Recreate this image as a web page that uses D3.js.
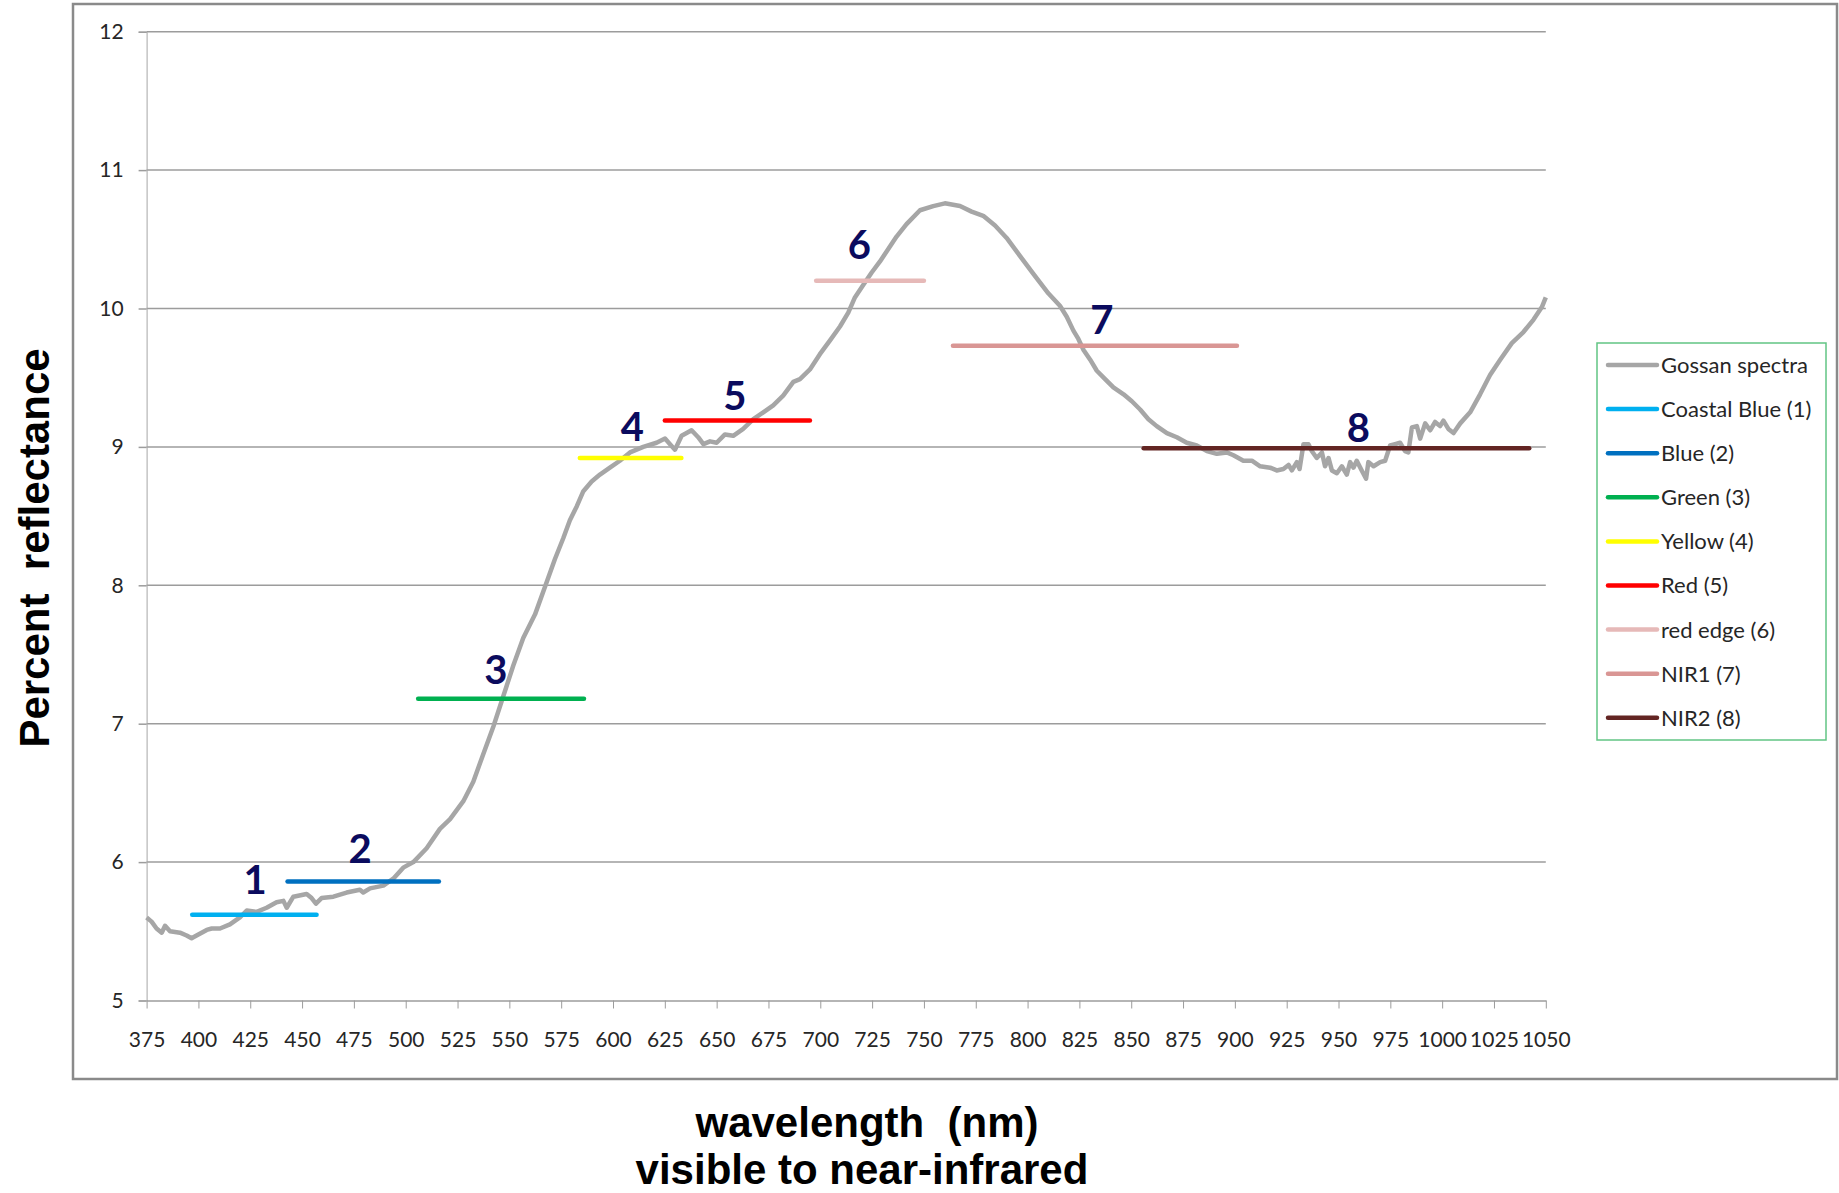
<!DOCTYPE html>
<html>
<head>
<meta charset="utf-8">
<script src="https://cdn.jsdelivr.net/npm/d3@7"></script>
<style>
  body { margin: 0; background: #fff; }
  svg { display: block; }
</style>
</head>
<body>
<div id="chart"></div>
<script>
// spectrum (nm / percent reflectance)
const wavelength = [375,377.4,379.8,382.3,383.9,386.3,391.1,394.3,396.7,399.1,404,406.4,410.4,415.2,420,423.3,428.1,432.9,437.7,441,442.6,445.8,452.2,454.6,456.7,459.4,465.1,471.5,477.9,479.5,482.8,489.2,494,498.8,503.7,510.1,516.5,521.4,527.8,532.6,537.4,542.3,547.1,551.9,556.7,562.4,567.2,572,576,579.2,582.5,585.7,589.7,
  593.7,598.5,603.3,608.2,614.6,621,625.1,627.5,629.9,633.1,637.9,641.1,643.6,646.8,650,654,658,662.8,667.7,672.5,677.3,682.1,687,690.2,695,699.8,704.7,709.5,713.5,716.7,720.7,724.8,728.8,732.8,736.8,741.6,748.1,754.5,760.1,767.4,773,778.6,784.3,789.9,796.3,802.8,810,815.6,
  818.9,822.1,824.5,827,830.2,833.4,837.4,841.4,846.3,850.3,854.3,858.3,862.3,867.2,872,876.8,881.6,886.5,891.3,896.1,899.3,904.1,908.2,912.2,917,920.2,923.4,925.9,927.5,929.9,931.2,933.1,935.5,937.1,939.5,942,943.5,945.2,946.8,949.2,951.6,954,955.6,957.2,958.8,961.2,963.3,964.4,966.9,970.1,972.5,974.9,977.3,979.7,982.1,983.7,985.4,987.8,989.4,991.8,994.2,996.6,999,1000.6,1003,1005.5,1008.7,1013.5,1018.3,1023.1,1028,1033.6,1039.2,1044.1,1048.1,1050]
const reflectance = [5.60,5.57,5.52,5.49,5.54,5.50,5.49,5.47,5.45,5.47,5.51,5.52,5.52,5.55,5.60,5.65,5.64,5.67,5.71,5.72,5.67,5.75,5.77,5.74,5.70,5.74,5.75,5.78,5.80,5.78,5.81,5.83,5.88,5.96,6.00,6.10,6.24,6.31,6.44,6.58,6.78,6.98,7.20,7.42,7.62,7.79,7.99,8.19,8.34,8.47,8.57,8.68,8.75,
  8.80,8.85,8.90,8.96,9.00,9.03,9.06,9.02,8.98,9.08,9.12,9.07,9.02,9.04,9.03,9.09,9.08,9.13,9.20,9.25,9.30,9.37,9.47,9.49,9.56,9.67,9.77,9.87,9.97,10.08,10.17,10.26,10.34,10.43,10.52,10.61,10.71,10.74,10.76,10.74,10.70,10.67,10.60,10.51,10.38,10.25,10.11,10.02,
  9.94,9.84,9.78,9.70,9.63,9.55,9.49,9.43,9.38,9.33,9.27,9.20,9.15,9.10,9.07,9.03,9.01,8.97,8.95,8.96,8.94,8.90,8.90,8.86,8.85,8.83,8.84,8.87,8.83,8.89,8.84,9.02,9.02,8.97,8.92,8.96,8.86,8.92,8.83,8.81,8.86,8.80,8.89,8.85,8.90,8.83,8.77,8.89,8.86,8.89,8.90,9.01,9.02,9.03,8.97,8.96,9.14,9.15,9.06,9.17,9.12,9.18,9.15,9.19,9.13,9.10,9.17,9.25,9.38,9.52,9.63,9.75,9.83,9.92,10.01,10.08]

// WorldView bands: name, start nm, end nm, level
const bandNames = ["Coastal Blue (1)","Blue (2)","Green (3)","Yellow (4)","Red (5)","red edge (6)","NIR1 (7)","NIR2 (8)"]
const bandStart = [397, 443, 506, 584, 625, 698, 764, 856]
const bandEnd   = [457, 516, 586, 633, 695, 750, 901, 1042]
const bandLevel = [5.62, 5.86, 7.18, 8.92, 9.19, 10.20, 9.73, 8.99]
const bandColors = ["#00b0f0","#0070c0","#00b050","#ffff00","#ff0000","#e6b9b8","#d99694","#632523"]

// number labels over each band
const bandLabels = ["1","2","3","4","5","6","7","8"]
const labelX = [427.3, 478, 543.5, 609.3, 658.8, 718.8, 835.8, 959.6]
const labelY = [5.87, 6.10, 7.39, 9.145, 9.37, 10.46, 9.92, 9.14]

const xTicks = d3.range(375, 1051, 25)
const yTicks = [5,6,7,8,9,10,11,12]

const W = 1839, H = 1193
const plot = {left: 146.6, right: 1545.8, top: 31.7, bottom: 1000.5}

const svg = d3.select("#chart").append("svg")
    .attr("width", W)
    .attr("height", H)

// outer chart frame
svg.append("rect")
    .attr("x", 73).attr("y", 4)
    .attr("width", 1764).attr("height", 1075)
    .attr("fill", "#fff")
    .attr("stroke", "#8a8a8a")
    .attr("stroke-width", 2.5)

const x = d3.scaleLinear().domain([375, 1050]).range([plot.left, plot.right])
const y = d3.scaleLinear().domain([5, 12]).range([plot.bottom, plot.top])

// horizontal gridlines
svg.append("g")
    .selectAll("line")
    .data(yTicks.slice(1))
    .join("line")
    .attr("x1", plot.left).attr("x2", plot.right)
    .attr("y1", d => y(d)).attr("y2", d => y(d))
    .attr("stroke", "#9c9c9c")
    .attr("stroke-width", 1.5)

// y axis
const yAxis = svg.append("g")
    .attr("transform", `translate(${plot.left},0)`)
    .call(d3.axisLeft(y).tickValues(yTicks).tickSize(8).tickPadding(15).tickFormat(d3.format("d")))
yAxis.select(".domain").attr("stroke", "#a6a6a6").attr("stroke-width", 1)
yAxis.selectAll(".tick line").attr("stroke", "#9c9c9c").attr("stroke-width", 1.5)
yAxis.selectAll("text")
    .attr("font-family", "Lato, sans-serif")
    .attr("font-size", 21)
    .attr("fill", "#262626")

// x axis
const xAxis = svg.append("g")
    .attr("transform", `translate(0,${plot.bottom})`)
    .call(d3.axisBottom(x).tickValues(xTicks).tickSize(8).tickSizeOuter(0).tickPadding(24).tickFormat(d3.format("d")))
xAxis.select(".domain").attr("stroke", "#9c9c9c").attr("stroke-width", 1.5)
xAxis.selectAll(".tick line").attr("stroke", "#9c9c9c").attr("stroke-width", 1)
xAxis.selectAll("text")
    .attr("font-family", "Lato, sans-serif")
    .attr("font-size", 21)
    .attr("fill", "#262626")

// spectrum curve
const spectrum = wavelength.map((w, i) => ({w: w, r: reflectance[i]}))
const line = d3.line().x(d => x(d.w)).y(d => y(d.r))

svg.append("path")
    .datum(spectrum)
    .attr("d", line)
    .attr("fill", "none")
    .attr("stroke", "#a6a6a6")
    .attr("stroke-width", 4.5)
    .attr("stroke-linejoin", "round")

// band bars
svg.append("g")
    .selectAll("line")
    .data(bandNames)
    .join("line")
    .attr("x1", (d, i) => x(bandStart[i]))
    .attr("x2", (d, i) => x(bandEnd[i]))
    .attr("y1", (d, i) => y(bandLevel[i]))
    .attr("y2", (d, i) => y(bandLevel[i]))
    .attr("stroke", (d, i) => bandColors[i])
    .attr("stroke-width", 4.5)
    .attr("stroke-linecap", "round")

// band numbers
svg.append("g")
    .selectAll("text")
    .data(bandLabels)
    .join("text")
    .attr("x", (d, i) => x(labelX[i]))
    .attr("y", (d, i) => y(labelY[i]))
    .attr("dy", "0.36em")
    .attr("text-anchor", "middle")
    .attr("font-family", "Lato, sans-serif")
    .attr("font-weight", 700)
    .attr("font-size", 40)
    .attr("fill", "#0b0b5e")
    .text(d => d)

// legend
const legend = svg.append("g")
legend.append("rect")
    .attr("x", 1597).attr("y", 343)
    .attr("width", 229).attr("height", 397)
    .attr("fill", "#fff")
    .attr("stroke", "#62c584")
    .attr("stroke-width", 1.5)

const legendNames = ["Gossan spectra"].concat(bandNames)
const legendColors = ["#a6a6a6"].concat(bandColors)

const rows = legend.selectAll("g")
    .data(legendNames)
    .join("g")
    .attr("transform", (d, i) => `translate(1608,${365 + i * 44.1})`)
rows.append("line")
    .attr("x1", 0).attr("x2", 49)
    .attr("stroke", (d, i) => legendColors[i])
    .attr("stroke-width", 4.5)
    .attr("stroke-linecap", "round")
rows.append("text")
    .attr("x", 53)
    .attr("dy", "0.36em")
    .attr("font-family", "Lato, sans-serif")
    .attr("font-size", 22)
    .attr("fill", "#262626")
    .text(d => d)

// axis titles
svg.append("text")
    .attr("transform", "translate(49,548) rotate(-90)")
    .attr("text-anchor", "middle")
    .attr("font-family", "Liberation Sans, Arial, sans-serif")
    .attr("font-weight", 700)
    .attr("font-size", 42)
    .style("white-space", "pre")
    .text("Percent  reflectance")

const xTitle = svg.append("text")
    .attr("text-anchor", "middle")
    .attr("font-family", "Liberation Sans, Arial, sans-serif")
    .attr("font-weight", 700)
    .attr("font-size", 42)
    .style("white-space", "pre")
xTitle.append("tspan").attr("x", 867).attr("y", 1137).text("wavelength  (nm)")
xTitle.append("tspan").attr("x", 862).attr("y", 1184).text("visible to near-infrared")
</script>
</body>
</html>
